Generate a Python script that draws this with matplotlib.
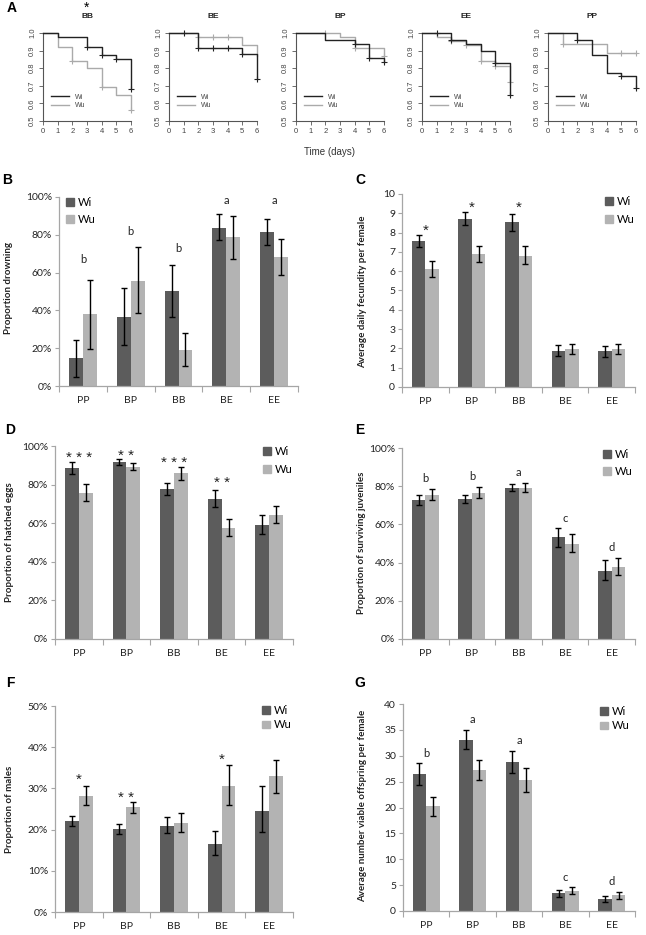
import matplotlib.pyplot as plt
import numpy as np
from matplotlib.patches import Patch

# ---- panel A: survival curves (Kaplan-Meier style) ----
surv_titles = ['BB', 'BE', 'BP', 'EE', 'PP']

bb_wi_t = [0, 1, 3, 4, 5, 6]
bb_wi_s = [1.0, 0.98, 0.92, 0.875, 0.85, 0.68]
bb_wi_ct = [3, 4, 5, 6]
bb_wi_cs = [0.92, 0.875, 0.85, 0.68]
bb_wu_t = [0, 1, 2, 3, 4, 5, 6]
bb_wu_s = [1.0, 0.92, 0.84, 0.80, 0.695, 0.65, 0.56]
bb_wu_ct = [2, 4, 6]
bb_wu_cs = [0.84, 0.695, 0.56]

be_wi_t = [0, 2, 5, 6]
be_wi_s = [1.0, 0.915, 0.88, 0.74]
be_wi_ct = [1, 2, 3, 4, 5, 6]
be_wi_cs = [1.0, 0.915, 0.915, 0.915, 0.88, 0.74]
be_wu_t = [0, 2, 5, 6]
be_wu_s = [1.0, 0.98, 0.93, 0.87]
be_wu_ct = [2, 3, 4]
be_wu_cs = [0.98, 0.98, 0.98]

bp_wi_t = [0, 2, 4, 5, 6]
bp_wi_s = [1.0, 0.96, 0.94, 0.86, 0.835]
bp_wi_ct = [4, 5, 6]
bp_wi_cs = [0.94, 0.86, 0.835]
bp_wu_t = [0, 3, 4, 6]
bp_wu_s = [1.0, 0.975, 0.915, 0.87]
bp_wu_ct = [2, 4, 6]
bp_wu_cs = [1.0, 0.915, 0.87]

ee_wi_t = [0, 2, 3, 4, 5, 6]
ee_wi_s = [1.0, 0.96, 0.94, 0.90, 0.83, 0.645]
ee_wi_ct = [1, 2, 5, 6]
ee_wi_cs = [1.0, 0.96, 0.83, 0.645]
ee_wu_t = [0, 1, 2, 3, 4, 5, 6]
ee_wu_s = [1.0, 0.98, 0.955, 0.93, 0.84, 0.815, 0.72]
ee_wu_ct = [2, 3, 4, 5, 6]
ee_wu_cs = [0.955, 0.93, 0.84, 0.815, 0.72]

pp_wi_t = [0, 2, 3, 4, 5, 6]
pp_wi_s = [1.0, 0.96, 0.875, 0.775, 0.755, 0.69]
pp_wi_ct = [2, 5, 6]
pp_wi_cs = [0.96, 0.755, 0.69]
pp_wu_t = [0, 1, 4, 6]
pp_wu_s = [1.0, 0.935, 0.885, 0.885]
pp_wu_ct = [1, 5, 6]
pp_wu_cs = [0.935, 0.885, 0.885]

surv = [
    (bb_wi_t, bb_wi_s, bb_wi_ct, bb_wi_cs, bb_wu_t, bb_wu_s, bb_wu_ct, bb_wu_cs),
    (be_wi_t, be_wi_s, be_wi_ct, be_wi_cs, be_wu_t, be_wu_s, be_wu_ct, be_wu_cs),
    (bp_wi_t, bp_wi_s, bp_wi_ct, bp_wi_cs, bp_wu_t, bp_wu_s, bp_wu_ct, bp_wu_cs),
    (ee_wi_t, ee_wi_s, ee_wi_ct, ee_wi_cs, ee_wu_t, ee_wu_s, ee_wu_ct, ee_wu_cs),
    (pp_wi_t, pp_wi_s, pp_wi_ct, pp_wi_cs, pp_wu_t, pp_wu_s, pp_wu_ct, pp_wu_cs),
]

# ---- bar panels ----
cats = ['PP', 'BP', 'BB', 'BE', 'EE']

drown_wi = [14.6, 36.6, 50.2, 83.8, 81.3]
drown_wi_lo = [4.6, 21.7, 36.6, 77.1, 74.5]
drown_wi_hi = [24.3, 51.8, 64.0, 90.8, 88.4]
drown_wu = [37.9, 55.8, 19.0, 78.9, 68.3]
drown_wu_lo = [19.5, 38.4, 10.6, 67.4, 58.6]
drown_wu_hi = [56.0, 73.4, 28.0, 90.1, 77.6]
drown_notes = ['b', 'b', 'b', 'a', 'a']
drown_note_y = [67, 82, 73, 98, 98]

fec_wi = [7.56, 8.72, 8.54, 1.89, 1.85]
fec_wi_lo = [7.24, 8.39, 8.09, 1.59, 1.58]
fec_wi_hi = [7.87, 9.05, 8.98, 2.17, 2.11]
fec_wu = [6.10, 6.88, 6.81, 1.98, 1.98]
fec_wu_lo = [5.72, 6.46, 6.36, 1.73, 1.73]
fec_wu_hi = [6.53, 7.31, 7.31, 2.24, 2.24]
fec_notes = ['*', '*', '*', '', '']
fec_note_y = [8.3, 9.5, 9.5, 0, 0]

hatch_wi = [88.6, 91.7, 77.5, 72.7, 59.2]
hatch_wi_lo = [85.3, 90.3, 74.6, 68.4, 54.6]
hatch_wi_hi = [91.7, 93.1, 80.8, 77.2, 64.2]
hatch_wu = [75.8, 89.3, 86.0, 57.5, 64.2]
hatch_wu_lo = [71.7, 87.4, 82.6, 53.4, 59.9]
hatch_wu_hi = [80.1, 91.2, 89.3, 62.0, 69.1]
hatch_notes = ['* * *', '* *', '* * *', '* *', '']
hatch_note_y = [96, 97, 93.4, 83, 0]

juv_wi = [73.0, 73.4, 79.0, 53.2, 35.8]
juv_wi_lo = [70.4, 71.2, 77.6, 48.3, 30.8]
juv_wi_hi = [75.5, 75.5, 80.9, 58.3, 41.6]
juv_wu = [75.3, 76.5, 79.0, 50.0, 37.9]
juv_wu_lo = [72.7, 73.7, 77.0, 45.7, 33.4]
juv_wu_hi = [78.6, 79.8, 81.7, 55.1, 42.3]
juv_notes = ['b', 'b', 'a', 'c', 'd']
juv_note_y = [84, 85, 87, 63, 48]

males_wi = [22.1, 20.1, 20.8, 16.6, 24.6]
males_wi_lo = [20.9, 19.0, 19.2, 13.9, 19.3]
males_wi_hi = [23.3, 21.4, 23.1, 19.6, 30.5]
males_wu = [28.1, 25.4, 21.7, 30.7, 33.0]
males_wu_lo = [26.0, 24.1, 19.4, 25.9, 28.9]
males_wu_hi = [30.5, 26.7, 24.1, 35.7, 36.8]
males_notes = ['*', '* *', '', '*', '']
males_note_y = [33, 28.8, 0, 38, 0]

off_wi = [26.5, 33.1, 28.8, 3.4, 2.4]
off_wi_lo = [24.4, 31.3, 26.6, 2.8, 1.8]
off_wi_hi = [28.6, 35.0, 30.9, 4.1, 2.9]
off_wu = [20.2, 27.2, 25.4, 3.9, 3.0]
off_wu_lo = [18.3, 25.4, 22.9, 3.2, 2.3]
off_wu_hi = [22.1, 29.1, 27.7, 4.6, 3.6]
off_notes = ['b', 'a', 'a', 'c', 'd']
off_note_y = [30.5, 37, 33, 6.5, 5.7]

W, H = 646, 935
fig = plt.figure(figsize=(W / 100, H / 100), dpi=100)
plt.rcParams['font.family'] = ['Lato', 'DejaVu Sans']


def box(l, t, r, b):
    return [l / W, 1 - b / H, (r - l) / W, (b - t) / H]


def ftext(x, y, s, **kw):
    fig.text(x / W, 1 - y / H, s, **kw)


DARK = '#5c5c5c'
LIGHT = '#b3b3b3'
AXC = '#a6a6a6'
KM_DARK = '#222222'
KM_LIGHT = '#aaaaaa'

# panel A
for i, (l, title, d) in enumerate(zip([43, 169, 296, 422, 548], surv_titles, surv)):
    wi_t, wi_s, wi_ct, wi_cs, wu_t, wu_s, wu_ct, wu_cs = d
    ax = fig.add_axes(box(l, 33, l + 88, 121))
    ax.step(wi_t, wi_s, where='post', color=KM_DARK, lw=1.0, label='Wi', clip_on=False, zorder=3)
    ax.step(wu_t, wu_s, where='post', color=KM_LIGHT, lw=1.0, label='Wu', clip_on=False)
    ax.plot(wi_ct, wi_cs, '+', color=KM_DARK, ms=4, mew=0.8, clip_on=False, zorder=3)
    ax.plot(wu_ct, wu_cs, '+', color=KM_LIGHT, ms=4, mew=0.8, clip_on=False)
    ax.set_xlim(0, 6)
    ax.set_ylim(0.5, 1.0)
    for s in ['top', 'right']:
        ax.spines[s].set_visible(False)
    for s in ['left', 'bottom']:
        ax.spines[s].set_color('#555555')
        ax.spines[s].set_linewidth(0.8)
    ax.set_xticks(range(7))
    ax.set_yticks([0.5, 0.6, 0.7, 0.8, 0.9, 1.0])
    ax.set_yticklabels(['0.5', '0.6', '0.7', '0.8', '0.9', '1.0'], rotation=90, va='center')
    ax.tick_params(labelsize=5.5, length=3, width=0.6, color='#555555', labelcolor='#444444', pad=2)
    for lab in ax.get_xticklabels() + ax.get_yticklabels():
        lab.set_fontfamily('Liberation Sans')
    leg = ax.legend(loc='lower left', frameon=False, prop={'family': 'Liberation Sans', 'size': 5},
                    handlelength=2.6, bbox_to_anchor=(0.02, 0.06), labelspacing=0.25)
    for t in leg.get_texts():
        t.set_color('#444444')
    ftext(l + 44, 17, title, ha='center', va='center', fontsize=6, fontweight='bold',
          family='Liberation Sans', color='#222222')

ftext(87, 8, '*', ha='center', va='center', fontsize=10, family='Liberation Sans')
ftext(12, 8, 'A', ha='center', va='center', fontsize=10, fontweight='bold', family='Liberation Sans')
ftext(330, 152, 'Time (days)', ha='center', va='center', fontsize=7, family='Liberation Sans', color='#333333')


def bar_panel(rect, wi, wi_lo, wi_hi, wu, wu_lo, wu_hi, ymax, step, pct, ylabel, label_xy,
              notes, note_y, stars, leg_xy, leg_space, letter, letter_xy):
    ax = fig.add_axes(box(*rect))
    x = np.arange(len(cats))
    w = 0.29
    wi = np.array(wi); wu = np.array(wu)
    ax.bar(x - w / 2, wi, w, color=DARK, label='Wi', zorder=2)
    ax.bar(x + w / 2, wu, w, color=LIGHT, label='Wu', zorder=2)
    ax.errorbar(x - w / 2, wi, yerr=[wi - np.array(wi_lo), np.array(wi_hi) - wi], fmt='none',
                ecolor='black', elinewidth=1.0, capsize=2.5, capthick=1.0, zorder=3)
    ax.errorbar(x + w / 2, wu, yerr=[wu - np.array(wu_lo), np.array(wu_hi) - wu], fmt='none',
                ecolor='black', elinewidth=1.0, capsize=2.5, capthick=1.0, zorder=3)
    for xi, s, yv in zip(x, notes, note_y):
        if not s:
            continue
        if stars:
            ax.annotate(s, (xi, yv), xytext=(0, -3), textcoords='offset points', ha='center',
                        va='center', fontsize=11, family='Liberation Sans', color='#222222')
        else:
            ax.text(xi, yv, s, ha='center', va='center', fontsize=8, color='#222222')
    ax.set_xlim(-0.5, len(cats) - 0.5)
    ax.set_ylim(0, ymax)
    for s in ['top', 'right']:
        ax.spines[s].set_visible(False)
    for s in ['left', 'bottom']:
        ax.spines[s].set_color(AXC)
        ax.spines[s].set_linewidth(0.9)
    ax.set_xticks(np.arange(len(cats) + 1) - 0.5)
    ax.set_xticklabels([])
    ax.set_xticks(x, minor=True)
    ax.set_xticklabels(cats, minor=True)
    ax.tick_params(axis='x', which='major', length=4, color=AXC, width=0.8)
    ax.tick_params(axis='x', which='minor', length=0, labelsize=7.5, pad=7, labelcolor='#222222')
    yt = np.arange(0, ymax + step / 2, step)
    ax.set_yticks(yt)
    if pct:
        ax.set_yticklabels(['%d%%' % v for v in yt])
    else:
        ax.set_yticklabels(['%d' % v for v in yt])
    ax.tick_params(axis='y', length=3, color=AXC, width=0.8, labelsize=7.5, pad=2, labelcolor='#222222')
    ftext(label_xy[0], label_xy[1], ylabel, rotation=90, ha='center', va='center',
          fontsize=7, fontweight='bold', color='#222222')
    ax.legend(handles=[Patch(color=DARK, label='Wi'), Patch(color=LIGHT, label='Wu')],
              loc='upper left', bbox_to_anchor=(leg_xy[0] / W, 1 - leg_xy[1] / H),
              bbox_transform=fig.transFigure, frameon=False, fontsize=8,
              handlelength=0.7, handleheight=0.7, handletextpad=0.35, borderpad=0,
              borderaxespad=0, labelspacing=leg_space)
    ftext(letter_xy[0], letter_xy[1], letter, ha='center', va='center', fontsize=10,
          fontweight='bold', family='Liberation Sans')
    return ax


bar_panel((59, 197, 298, 386), drown_wi, drown_wi_lo, drown_wi_hi, drown_wu, drown_wu_lo, drown_wu_hi,
          100, 20, True, 'Proportion drowning', (9, 288), drown_notes, drown_note_y, False,
          (66, 197), 0.5, 'B', (7, 180))
bar_panel((402, 194, 635, 387), fec_wi, fec_wi_lo, fec_wi_hi, fec_wu, fec_wu_lo, fec_wu_hi,
          10, 1, False, 'Average daily fecundity per female', (363, 292), fec_notes, fec_note_y, True,
          (605, 196), 0.65, 'C', (360, 180))
bar_panel((55, 446, 293, 639), hatch_wi, hatch_wi_lo, hatch_wi_hi, hatch_wu, hatch_wu_lo, hatch_wu_hi,
          100, 20, True, 'Proportion of hatched eggs', (10, 542), hatch_notes, hatch_note_y, True,
          (263, 446), 0.6, 'D', (10, 430))
bar_panel((402, 448, 635, 639), juv_wi, juv_wi_lo, juv_wi_hi, juv_wu, juv_wu_lo, juv_wu_hi,
          100, 20, True, 'Proportion of surviving juveniles', (362, 543), juv_notes, juv_note_y, False,
          (603, 449), 0.5, 'E', (360, 430))
bar_panel((55, 706, 293, 912), males_wi, males_wi_lo, males_wi_hi, males_wu, males_wu_lo, males_wu_hi,
          50, 10, True, 'Proportion of males', (10, 809), males_notes, males_note_y, True,
          (262, 705), 0.3, 'F', (10, 683))
bar_panel((403, 704, 635, 911), off_wi, off_wi_lo, off_wi_hi, off_wu, off_wu_lo, off_wu_hi,
          40, 5, False, 'Average number viable offspring per female', (363, 806), off_notes, off_note_y, False,
          (600, 706), 0.3, 'G', (360, 683))

fig.savefig('out.png', dpi=100)
